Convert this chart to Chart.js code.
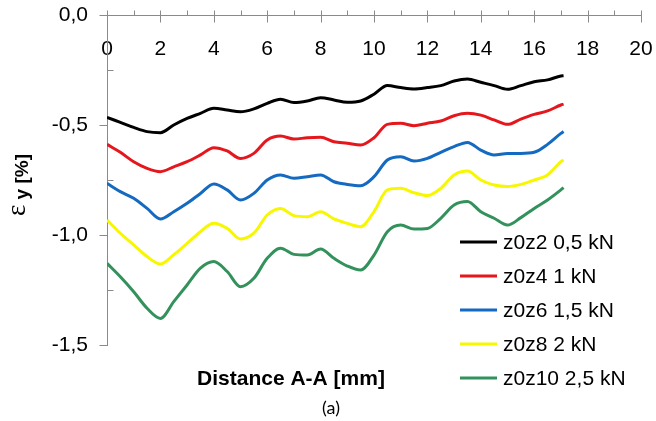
<!DOCTYPE html>
<html>
<head>
<meta charset="utf-8">
<script src="https://cdn.jsdelivr.net/npm/chart.js@4.4.1/dist/chart.umd.min.js"></script>
<style>
  html, body { margin: 0; padding: 0; background: #ffffff; }
  canvas { display: block; }
</style>
</head>
<body>
<canvas id="chart" width="656" height="421"></canvas>
<script>
// Distance along section A-A [mm]
const distance = [0, 0.5, 1, 1.5, 2, 2.5, 3, 3.5, 4, 4.5, 5, 5.5, 6, 6.5, 7, 7.5, 8, 8.5,
  9, 9.5, 10, 10.5, 11, 11.5, 12, 12.5, 13, 13.5, 14, 14.5, 15, 15.5, 16, 16.5, 17, 17.1];

// Strain eps_y [%] per load step
const z0z2 = [-0.465, -0.488, -0.511, -0.530, -0.535, -0.500, -0.470, -0.447, -0.424, -0.432,
  -0.440, -0.427, -0.402, -0.383, -0.398, -0.391, -0.376, -0.386, -0.397, -0.391, -0.360,
  -0.321, -0.330, -0.336, -0.330, -0.321, -0.300, -0.291, -0.306, -0.321, -0.338, -0.321,
  -0.303, -0.295, -0.277, -0.276];
const z0z4 = [-0.588, -0.624, -0.667, -0.697, -0.712, -0.690, -0.667, -0.636, -0.603, -0.618,
  -0.652, -0.629, -0.568, -0.550, -0.564, -0.558, -0.556, -0.576, -0.583, -0.591, -0.558,
  -0.497, -0.492, -0.503, -0.492, -0.482, -0.458, -0.447, -0.455, -0.477, -0.497, -0.473,
  -0.452, -0.436, -0.409, -0.405];
const z0z6 = [-0.765, -0.803, -0.833, -0.879, -0.927, -0.894, -0.856, -0.811, -0.768, -0.795,
  -0.841, -0.811, -0.750, -0.727, -0.742, -0.735, -0.727, -0.758, -0.770, -0.776, -0.735,
  -0.659, -0.644, -0.664, -0.652, -0.624, -0.598, -0.579, -0.614, -0.636, -0.629, -0.629,
  -0.624, -0.588, -0.538, -0.530];
const z0z8 = [-0.932, -0.992, -1.045, -1.098, -1.132, -1.090, -1.038, -0.985, -0.947, -0.970,
  -1.018, -0.992, -0.909, -0.879, -0.912, -0.917, -0.894, -0.927, -0.947, -0.962, -0.894,
  -0.795, -0.788, -0.808, -0.821, -0.788, -0.727, -0.709, -0.750, -0.773, -0.780, -0.770,
  -0.750, -0.727, -0.667, -0.659];
const z0z10 = [-1.129, -1.190, -1.258, -1.333, -1.379, -1.303, -1.227, -1.151, -1.121, -1.166,
  -1.235, -1.197, -1.106, -1.060, -1.088, -1.091, -1.064, -1.106, -1.141, -1.159, -1.091,
  -0.985, -0.955, -0.973, -0.970, -0.924, -0.864, -0.848, -0.894, -0.924, -0.955, -0.921,
  -0.879, -0.841, -0.795, -0.785];

const seriesLabels = ['z0z2 0,5 kN', 'z0z4 1 kN', 'z0z6 1,5 kN', 'z0z8 2 kN', 'z0z10 2,5 kN'];
const seriesValues = [z0z2, z0z4, z0z6, z0z8, z0z10];
const seriesColors = ['#000000', '#e5171d', '#1469c0', '#f7f700', '#33915c'];

const xTicks = [0, 2, 4, 6, 8, 10, 12, 14, 16, 18, 20];
const xMinorTicks = [1, 3, 5, 7, 9, 11, 13, 15, 17, 19];
const yTicks = [0, -0.5, -1.0, -1.5];
const yMinorTicks = [-0.25, -0.75, -1.25];

const xTitle = 'Distance A-A [mm]';
const caption = '(a)';

const AXIS_GREY = '#8a8a8a';
const TICK_FONT = '21px "Liberation Sans", Arial, sans-serif';

const comma = v => v.toFixed(1).replace('.', ',');

// Tick marks in the spreadsheet style: major x ticks cross the axis line,
// minor ones sit above it; major y ticks point out, minor ones point in.
const axisMarks = {
  id: 'axisMarks',
  afterDatasetsDraw(chart) {
    const {ctx, scales: {x, y}} = chart;
    const y0 = Math.round(y.getPixelForValue(0)) + 0.5;
    const xl = Math.round(x.getPixelForValue(0)) + 0.5;
    ctx.save();
    ctx.strokeStyle = AXIS_GREY;
    ctx.lineWidth = 1;
    ctx.beginPath();
    xTicks.forEach(v => {
      const px = Math.round(x.getPixelForValue(v)) + 0.5;
      ctx.moveTo(px, y0 - 5); ctx.lineTo(px, y0 + 7);
    });
    xMinorTicks.forEach(v => {
      const px = Math.round(x.getPixelForValue(v)) + 0.5;
      ctx.moveTo(px, y0 - 5); ctx.lineTo(px, y0);
    });
    yTicks.forEach(v => {
      const py = Math.round(y.getPixelForValue(v)) + 0.5;
      ctx.moveTo(xl - 8, py); ctx.lineTo(xl, py);
    });
    yMinorTicks.forEach(v => {
      const py = Math.round(y.getPixelForValue(v)) + 0.5;
      ctx.moveTo(xl, py); ctx.lineTo(xl + 6, py);
    });
    ctx.stroke();
    ctx.restore();
  }
};

// Axis titles, caption and the legend block inside the plot area
const annotations = {
  id: 'annotations',
  afterDraw(chart) {
    const {ctx} = chart;
    ctx.save();
    ctx.fillStyle = '#000000';

    // horizontal axis title
    ctx.font = 'bold 21px "Liberation Sans", Arial, sans-serif';
    ctx.textAlign = 'center';
    ctx.textBaseline = 'alphabetic';
    ctx.fillText(xTitle, 291, 385);

    // caption
    ctx.font = '18px Lato, "Open Sans", sans-serif';
    ctx.fillText(caption, 331, 414);

    // vertical axis title: eps (regular) followed by "y [%]" (bold)
    ctx.save();
    ctx.translate(0, 216);
    ctx.rotate(-Math.PI / 2);
    ctx.textAlign = 'left';
    ctx.font = '27px "Liberation Serif", "DejaVu Serif", serif';
    ctx.fillText('\u03B5', 0, 25);
    const w1 = ctx.measureText('\u03B5').width;
    ctx.font = 'bold 19px "Liberation Sans", Arial, sans-serif';
    ctx.fillText(' y [%]', w1, 28);
    ctx.restore();

    // legend
    ctx.textAlign = 'left';
    ctx.textBaseline = 'middle';
    ctx.font = TICK_FONT;
    chart.data.datasets.forEach((ds, i) => {
      const ry = 242 + i * 34;
      ctx.strokeStyle = ds.borderColor;
      ctx.lineWidth = 3;
      ctx.beginPath();
      ctx.moveTo(460, ry);
      ctx.lineTo(497, ry);
      ctx.stroke();
      ctx.fillText(ds.label, 503, ry + 1);
    });
    ctx.restore();
  }
};

// Invisible tick marks give the label offset without adding layout padding
const hiddenTickGrid = length => ({
  display: true,
  drawOnChartArea: false,
  drawTicks: true,
  tickLength: length,
  tickColor: 'rgba(0,0,0,0)',
  color: 'rgba(0,0,0,0)'
});

new Chart(document.getElementById('chart'), {
  type: 'line',
  data: {
    datasets: seriesLabels.map((label, i) => ({
      label,
      data: distance.map((d, k) => ({x: d, y: seriesValues[i][k]})),
      borderColor: seriesColors[i],
      backgroundColor: seriesColors[i],
      borderWidth: 3,
      pointRadius: 0,
      cubicInterpolationMode: 'monotone',
      fill: false
    }))
  },
  options: {
    responsive: false,
    animation: false,
    devicePixelRatio: 1,
    layout: { padding: { top: 15, right: 15, bottom: 76, left: 0 } },
    plugins: {
      legend: { display: false },
      tooltip: { enabled: false },
      title: { display: false }
    },
    scales: {
      x: {
        type: 'linear',
        position: { y: 0 },
        min: 0,
        max: 20,
        afterBuildTicks: s => { s.ticks = xTicks.map(v => ({value: v})); },
        grid: hiddenTickGrid(22),
        border: { display: true, color: AXIS_GREY, width: 1 },
        ticks: {
          padding: 0,
          maxRotation: 0,
          autoSkip: false,
          color: '#000000',
          font: { family: '"Liberation Sans", Arial, sans-serif', size: 21 },
          callback: v => String(v)
        }
      },
      y: {
        type: 'linear',
        position: 'left',
        min: -1.5,
        max: 0,
        afterBuildTicks: s => { s.ticks = yTicks.map(v => ({value: v})); },
        afterFit: s => { s.width = 107; },
        grid: hiddenTickGrid(19),
        border: { display: true, color: AXIS_GREY, width: 1 },
        ticks: {
          padding: 0,
          autoSkip: false,
          color: '#000000',
          font: { family: '"Liberation Sans", Arial, sans-serif', size: 21 },
          callback: v => comma(v)
        }
      }
    }
  },
  plugins: [axisMarks, annotations]
});
</script>
</body>
</html>
